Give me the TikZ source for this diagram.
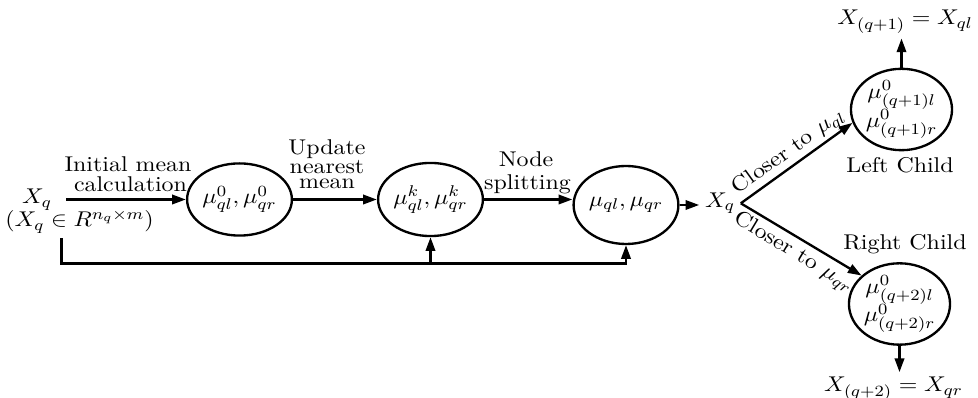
\documentclass[tikz,border=0pt]{standalone}
\usetikzlibrary{arrows.meta,shapes.geometric}
\begin{document}
\begin{tikzpicture}[x=0.5128pt,y=-0.5128pt,
  every node/.style={font=\fontsize{10.95}{13.6}\selectfont},
  txt/.style={xscale=1.12, inner sep=2.5pt},
  ell/.style={draw, ellipse, line width=1.2pt, inner sep=0pt, xscale=1.12},
  arr/.style={line width=1.2pt, -{Triangle[length=7pt,width=4.8pt]}}]
\useasboundingbox (0,0) rectangle (978,398);
% left input
\node[txt, anchor=base] (xq) at (37,204) {$X_q$};
\node[txt, anchor=base] (xqs) at (79.5,227) {$(X_q\in R^{n_q\times m})$};
% ellipses
\node[ell, minimum width=42.6pt, minimum height=37pt] (e1) at (239.5,199.5) {$\mu^0_{ql},\mu^0_{qr}$};
\node[ell, minimum width=42.6pt, minimum height=37.5pt] (e2) at (430.5,199.5) {$\mu^k_{ql},\mu^k_{qr}$};
\node[ell, minimum width=44pt, minimum height=40pt] (e3) at (626,205) {$\mu_{ql},\mu_{qr}$};
\node[txt, anchor=base] (xr) at (720,207.5) {$X_q$};
\node[ell, align=center, minimum width=44.4pt, minimum height=37.4pt] (lc) at (901.5,109.5) {$\mu^0_{(q+1)l}$\\[-1pt]$\mu^0_{(q+1)r}$};
\node[ell, align=center, minimum width=44.4pt, minimum height=35.9pt] (rc) at (899.5,304) {$\mu^0_{(q+2)l}$\\[-1pt]$\mu^0_{(q+2)r}$};
% labels
\node[txt, anchor=base] (l1a) at (128,172) {Initial mean};
\node[txt, anchor=base] (l1b) at (130.5,191.5) {calculation};
\node[txt, anchor=base] (l2a) at (327,155) {Update};
\node[txt, anchor=base] (l2b) at (327,174) {nearest};
\node[txt, anchor=base] (l2c) at (327,189) {mean};
\node[txt, anchor=base] (l3a) at (526,167) {Node};
\node[txt, anchor=base] (l3b) at (527.5,190) {splitting};
\node[txt, anchor=base] (lct) at (900,173) {Left Child};
\node[txt, anchor=base] (rct) at (905,250) {Right Child};
\node[txt, anchor=base] (tt) at (905,25) {$X_{(q+1)}=X_{ql}$};
\node[txt, anchor=base] (bt) at (893.5,392) {$X_{(q+2)}=X_{qr}$};
% connectors
\coordinate (s1) at (66,199.5);
\coordinate (fb) at (61.5,263.5);
\draw[arr] (s1) -- (e1.west);
\draw[arr] (e1.east) -- (e2.west);
\draw[arr] (e2.east) -- (e2.east -| e3.west);
\draw[arr] (e3.east) -- (e3.east -| xr.west);
\draw[arr] (xr.east) -- node[txt, sloped, above, inner sep=0.5pt] {Closer to $\mu_{ql}$} (lc.197);
\draw[arr] (xr.east) -- node[txt, sloped, below, inner sep=2pt] {Closer to $\mu_{qr}$} (rc.140);
\draw[arr] (lc.north) -- (lc.north |- tt.south);
\draw[arr] (rc.south) -- (rc.south |- bt.north);
\draw[arr] (xqs.south -| fb) -- (fb) -| (e3.south);
\draw[arr] (fb) -| (e2.south);
\end{tikzpicture}
\end{document}
